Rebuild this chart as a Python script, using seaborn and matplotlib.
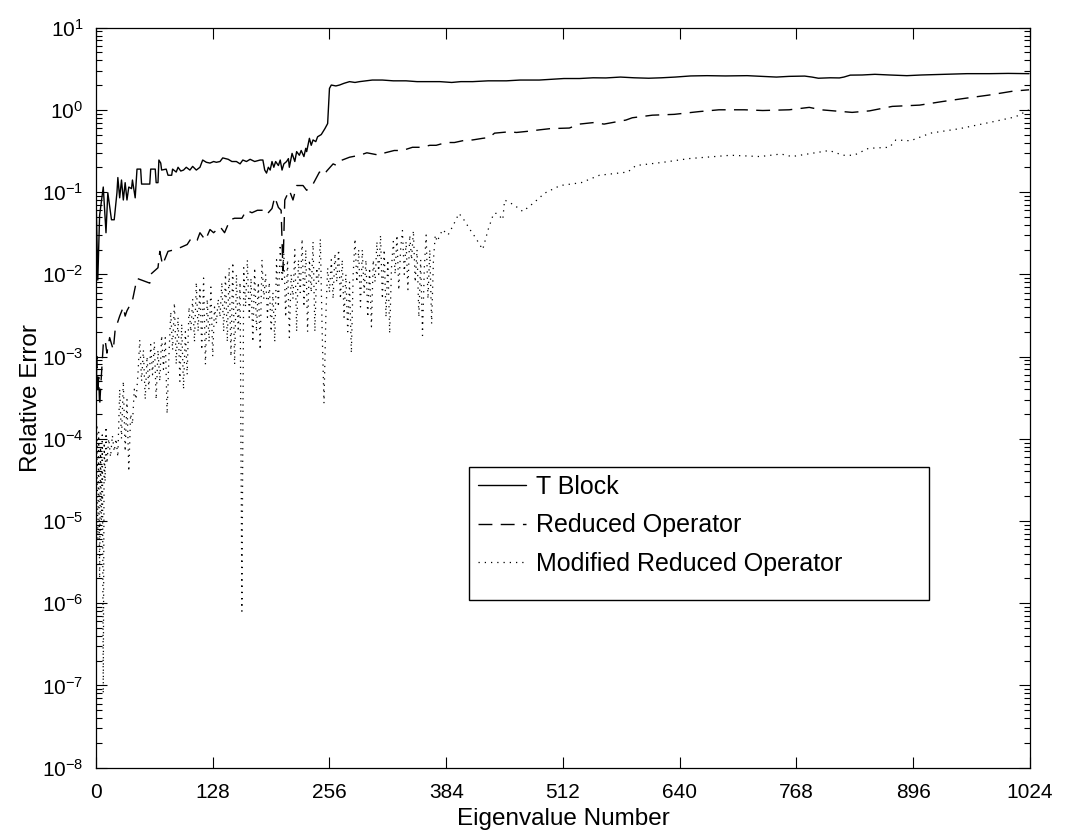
import numpy as np
import pandas as pd
import matplotlib
matplotlib.use("Agg")
import matplotlib.pyplot as plt
import seaborn as sns
from matplotlib.patches import Rectangle
from matplotlib.ticker import NullFormatter, FixedLocator, LogFormatterSciNotation

# ---------------- data ----------------
tblock_x = [0, 2, 4, 8, 11, 13, 17, 20, 23, 24, 26, 28, 30, 32, 34, 36, 39, 40, 43, 45,
            49, 50, 59, 60, 65, 66, 68, 69, 71, 72, 77, 79, 83, 84, 88, 90, 93, 96, 99, 103,
            106, 110, 114, 117, 121, 125, 129, 132, 136, 139, 145, 149, 154, 158, 161, 165, 169, 174, 180, 183,
            185, 187, 189, 191, 193, 195, 197, 200, 202, 204, 206, 209, 211, 212, 215, 218, 220, 223, 225, 228,
            230, 231, 234, 236, 238, 241, 243, 247, 251, 254, 256, 258, 263, 267, 272, 278, 284, 289, 296, 303,
            314, 326, 340, 352, 365, 377, 390, 400, 413, 430, 450, 465, 486, 500, 513, 530, 545, 559, 575, 590,
            606, 620, 635, 652, 670, 690, 714, 730, 746, 760, 777, 785, 792, 805, 815, 820, 827, 840, 854, 870,
            889, 905, 928, 940, 955, 980, 1000, 1023]
tblock_y = [0.10, 0.0085, 0.052, 0.115, 0.032, 0.098, 0.046, 0.046, 0.098, 0.15, 0.085, 0.14, 0.08, 0.13, 0.08, 0.115, 0.11, 0.14, 0.085, 0.19,
            0.19, 0.125, 0.125, 0.19, 0.19, 0.13, 0.13, 0.245, 0.225, 0.185, 0.19, 0.16, 0.16, 0.19, 0.175, 0.20, 0.18, 0.185, 0.20, 0.185,
            0.205, 0.185, 0.20, 0.245, 0.23, 0.225, 0.235, 0.23, 0.235, 0.26, 0.25, 0.235, 0.235, 0.22, 0.245, 0.235, 0.25, 0.235, 0.245, 0.245,
            0.185, 0.17, 0.20, 0.185, 0.235, 0.20, 0.235, 0.21, 0.245, 0.185, 0.22, 0.235, 0.255, 0.20, 0.295, 0.235, 0.31, 0.28, 0.32, 0.27,
            0.34, 0.31, 0.45, 0.37, 0.43, 0.41, 0.47, 0.50, 0.59, 0.68, 1.82, 2.0, 1.95, 2.0, 2.1, 2.2, 2.15, 2.2, 2.25, 2.3,
            2.3, 2.25, 2.25, 2.2, 2.2, 2.2, 2.15, 2.2, 2.2, 2.25, 2.25, 2.3, 2.3, 2.35, 2.4, 2.4, 2.45, 2.44, 2.5, 2.45,
            2.42, 2.45, 2.5, 2.58, 2.6, 2.58, 2.6, 2.55, 2.5, 2.55, 2.57, 2.5, 2.42, 2.45, 2.44, 2.5, 2.64, 2.65, 2.7, 2.65,
            2.6, 2.65, 2.7, 2.72, 2.75, 2.75, 2.77, 2.75]

reduced_x = [0, 1, 2, 3, 4, 6, 8, 10, 12, 15, 19, 21, 26, 30, 32, 34, 40, 45, 50, 59,
             60, 68, 70, 73, 79, 87, 92, 100, 105, 111, 114, 120, 125, 129, 136, 141, 147, 152, 160, 165,
             171, 177, 183, 187, 193, 196, 200, 203, 205, 207, 212, 216, 220, 227, 231, 238, 245, 250, 253, 260,
             264, 270, 278, 289, 297, 311, 317, 327, 336, 347, 357, 366, 373, 384, 393, 406, 413, 424, 431, 437,
             453, 461, 475, 486, 498, 519, 530, 546, 557, 581, 588, 610, 634, 661, 683, 711, 731, 760, 782, 795,
             809, 829, 848, 873, 903, 928, 953, 979, 1006, 1023]
reduced_y = [2.7e-4, 1.0e-3, 3.5e-4, 5.6e-4, 2.5e-4, 6e-4, 1.4e-3, 1.6e-3, 1.1e-3, 1.7e-3, 1.2e-3, 2.1e-3, 3.1e-3, 4.0e-3, 3.1e-3, 3.6e-3, 4.8e-3, 8.9e-3, 8.5e-3, 7.8e-3,
             1.0e-2, 1.2e-2, 1.9e-2, 1.3e-2, 1.9e-2, 2.0e-2, 2.1e-2, 2.3e-2, 2.8e-2, 2.6e-2, 3.2e-2, 2.6e-2, 3.5e-2, 3.2e-2, 3.8e-2, 3.2e-2, 4.6e-2, 4.8e-2, 4.8e-2, 6.0e-2,
             5.6e-2, 6.0e-2, 6.0e-2, 5.3e-2, 6.3e-2, 8.7e-2, 6.5e-2, 6.0e-2, 1.1e-2, 8.0e-2, 0.105, 0.08, 0.12, 0.12, 0.105, 0.125, 0.175, 0.16, 0.18, 0.22,
             0.21, 0.245, 0.265, 0.28, 0.30, 0.28, 0.30, 0.32, 0.32, 0.35, 0.35, 0.37, 0.37, 0.40, 0.40, 0.43, 0.43, 0.45, 0.46, 0.52,
             0.54, 0.53, 0.55, 0.57, 0.59, 0.60, 0.67, 0.70, 0.67, 0.75, 0.80, 0.86, 0.88, 0.95, 1.0, 1.0, 0.98, 1.0, 1.07, 1.0,
             0.97, 0.93, 0.97, 1.1, 1.14, 1.26, 1.38, 1.51, 1.69, 1.75]

modified_x = [0, 1, 2, 3, 4, 5, 6, 7, 8, 9, 10, 11, 12, 14, 16, 18, 20, 22, 24, 26,
              28, 30, 32, 34, 36, 38, 40, 42, 44, 46, 48, 50, 52, 54, 56, 58, 60, 62, 64, 66,
              68, 70, 72, 74, 76, 78, 80, 82, 84, 86, 88, 90, 92, 94, 96, 98, 100, 102, 104, 106,
              108, 110, 112, 114, 116, 118, 120, 122, 124, 126, 128, 130, 132, 134, 136, 138, 140, 142, 144, 146,
              148, 150, 152, 154, 156, 158, 160, 162, 164, 166, 168, 170, 172, 174, 176, 178, 180, 182, 184, 186,
              188, 190, 192, 194, 196, 198, 200, 202, 204, 206, 208, 210, 212, 214, 216, 218, 220, 222, 224, 226,
              228, 230, 232, 234, 236, 238, 240, 242, 244, 246, 248, 250, 252, 254, 256, 258, 260, 262, 264, 266,
              268, 270, 272, 274, 276, 278, 280, 282, 284, 286, 288, 290, 292, 294, 296, 298, 300, 302, 304, 306,
              308, 310, 312, 314, 316, 318, 320, 322, 324, 326, 328, 330, 332, 334, 336, 338, 340, 342, 344, 346,
              348, 350, 352, 354, 356, 358, 360, 362, 364, 366, 368, 370, 372, 374, 380, 386, 392, 398, 404, 410,
              416, 424, 430, 436, 440, 446, 448, 458, 468, 480, 492, 509, 532, 552, 583, 592, 622, 650, 696, 728,
              751, 763, 804, 819, 831, 847, 870, 877, 893, 915, 947, 982, 1008, 1023]
modified_y = [2e-5, 1.5e-4, 6e-6, 1.2e-4, 2e-6, 8e-5, 1e-5, 1.2e-4, 8e-8, 9e-5, 3e-5, 1.4e-4, 5e-5, 1.0e-4, 6e-5, 1.1e-4, 7e-5, 1.0e-4, 6e-5, 4e-4,
              1e-4, 5e-4, 7e-5, 3e-4, 4e-5, 2e-4, 1.5e-4, 4e-4, 3e-4, 6e-4, 1.6e-3, 5e-4, 1.2e-3, 3e-4, 1e-3, 4e-4, 1.4e-3, 6e-4, 1.5e-3, 3e-4,
              1.2e-3, 5e-4, 1.8e-3, 7e-4, 1.7e-3, 2e-4, 1.0e-3, 3.5e-3, 1.2e-3, 4.5e-3, 8e-4, 3e-3, 5e-4, 2.5e-3, 4e-4, 2e-3, 6e-4, 4e-3, 2e-3, 5e-3,
              1.5e-3, 8e-3, 2e-3, 7e-3, 1.2e-3, 9e-3, 8e-4, 5e-3, 1.5e-3, 7e-3, 1e-3, 4e-3, 2.5e-3, 5e-3, 3e-3, 8e-3, 2e-3, 1.0e-2, 1.5e-3, 1.2e-2,
              1e-3, 1.4e-2, 8e-4, 1e-2, 2e-3, 8e-3, 8e-7, 1.2e-2, 4e-3, 1.5e-2, 3e-3, 9e-3, 1.5e-3, 1.2e-2, 2e-3, 8e-3, 1.2e-3, 1.5e-2, 5e-3, 1e-2,
              3e-3, 8e-3, 2e-3, 6e-3, 1.5e-3, 1.5e-2, 4e-3, 2.3e-2, 8e-3, 1.8e-2, 3e-3, 1.5e-2, 1.7e-3, 1e-2, 5e-3, 2e-2, 2e-3, 1.5e-2, 6e-3, 2.7e-2,
              4e-3, 2e-2, 2e-3, 1.5e-2, 6e-3, 2.5e-2, 2e-3, 1.2e-2, 8e-3, 2.7e-2, 2e-3, 2.7e-4, 3e-3, 1.2e-2, 6e-3, 1.5e-2, 5e-3, 1.8e-2, 8e-3, 2e-2,
              5e-3, 1.5e-2, 3e-3, 1e-2, 2e-3, 8e-3, 1.1e-3, 1e-2, 2.7e-2, 8e-3, 2e-2, 4e-3, 2e-2, 6e-3, 1.5e-2, 3e-3, 1.2e-2, 2.3e-3, 1.5e-2, 8e-3,
              2.5e-2, 1e-2, 3e-2, 5e-3, 2e-2, 3e-3, 1.5e-2, 1.9e-3, 1.2e-2, 2.5e-2, 1e-2, 3e-2, 6.4e-3, 2e-2, 3.4e-2, 1e-2, 2.5e-2, 6.5e-3, 3e-2, 1.5e-2,
              3.4e-2, 8e-3, 2e-2, 3e-3, 1.5e-2, 1.8e-3, 1.2e-2, 3e-2, 5e-3, 2e-2, 2.5e-3, 1.5e-2, 3e-2, 2.5e-2, 3.5e-2, 3e-2, 4e-2, 5.5e-2, 4.5e-2, 3.5e-2,
              2.8e-2, 2.0e-2, 3.5e-2, 5.5e-2, 5.5e-2, 4.6e-2, 8e-2, 7e-2, 5.8e-2, 7.4e-2, 9.7e-2, 0.12, 0.13, 0.16, 0.175, 0.21, 0.23, 0.255, 0.28, 0.27,
              0.29, 0.27, 0.32, 0.28, 0.28, 0.34, 0.35, 0.43, 0.42, 0.52, 0.59, 0.71, 0.82, 1.0]

x_ticks = [0, 128, 256, 384, 512, 640, 768, 896, 1024]
y_decades = [-8, -7, -6, -5, -4, -3, -2, -1, 0, 1]
series_names = ["T Block", "Reduced Operator", "Modified Reduced Operator"]

# ---------------- styling ----------------
sns.set_style("ticks")
plt.rcParams['font.family'] = ['Liberation Sans', 'DejaVu Sans']
plt.rcParams['mathtext.fontset'] = 'custom'
plt.rcParams['mathtext.rm'] = 'Liberation Sans'
plt.rcParams['mathtext.it'] = 'Liberation Sans'
plt.rcParams['mathtext.default'] = 'regular'
plt.rcParams['axes.unicode_minus'] = False
plt.rcParams['text.color'] = 'black'
plt.rcParams['axes.labelcolor'] = 'black'
plt.rcParams['xtick.color'] = 'black'
plt.rcParams['ytick.color'] = 'black'

fig = plt.figure(figsize=(10.71, 8.35), dpi=100)
ax = fig.add_axes([0.0896, 0.0806, 0.8721, 0.8864])

frames = [
    pd.DataFrame({"Eigenvalue Number": tblock_x, "Relative Error": tblock_y}),
    pd.DataFrame({"Eigenvalue Number": reduced_x, "Relative Error": reduced_y}),
    pd.DataFrame({"Eigenvalue Number": modified_x, "Relative Error": modified_y}),
]
styles = [dict(lw=1.0, dashes=None), dict(lw=1.0, dashes=(10, 6)), dict(lw=0.9, dashes=(1, 4))]

for df, name, st in zip(frames, series_names, styles):
    sns.lineplot(data=df, x="Eigenvalue Number", y="Relative Error", ax=ax,
                 color="black", lw=st["lw"], estimator=None, errorbar=None, label=name)
    line = ax.lines[-1]
    if st["dashes"] is not None:
        line.set_dashes(st["dashes"])

ax.set_yscale("log")
ax.set_xlim(0, 1024)
ax.set_ylim(1e-8, 1e1)
major_y = [10.0 ** d for d in y_decades]
minor_y = [m * 10.0 ** d for d in y_decades[:-1] for m in range(2, 10)]
ax.xaxis.set_major_locator(FixedLocator(x_ticks))
ax.yaxis.set_major_locator(FixedLocator(major_y))
ax.yaxis.set_minor_locator(FixedLocator(minor_y))
ax.yaxis.set_minor_formatter(NullFormatter())
ax.yaxis.set_major_formatter(LogFormatterSciNotation())

ax.tick_params(axis="both", which="major", direction="in", length=8, width=0.8,
               top=True, right=True, labelsize=15, color="black", labelcolor="black")
ax.tick_params(axis="x", which="major", pad=11)
ax.tick_params(axis="y", which="major", pad=9)
ax.tick_params(axis="y", which="minor", direction="in", length=4, width=0.8,
               left=True, right=True, color="black")
for s in ax.spines.values():
    s.set_visible(True)
    s.set_linewidth(0.9)
    s.set_color("black")

ax.set_xlabel("Eigenvalue Number", fontsize=17.5, labelpad=4, color="black")
ax.set_ylabel("Relative Error", fontsize=17.5, labelpad=0, color="black")

# legend: entries without frame, MATLAB-style box drawn separately
leg = ax.legend(loc="upper left", bbox_to_anchor=(0.4085, 0.3955),
                frameon=False, fontsize=18, handlelength=1.95, handletextpad=0.4,
                labelspacing=0.58, borderpad=0.0, borderaxespad=0, labelcolor="black")
ax.add_patch(Rectangle((0.399, 0.2266), 0.493, 0.1797, transform=ax.transAxes,
                       fill=False, edgecolor="black", lw=1.0, zorder=5))

fig.savefig("out.png", dpi=100, facecolor="white")
